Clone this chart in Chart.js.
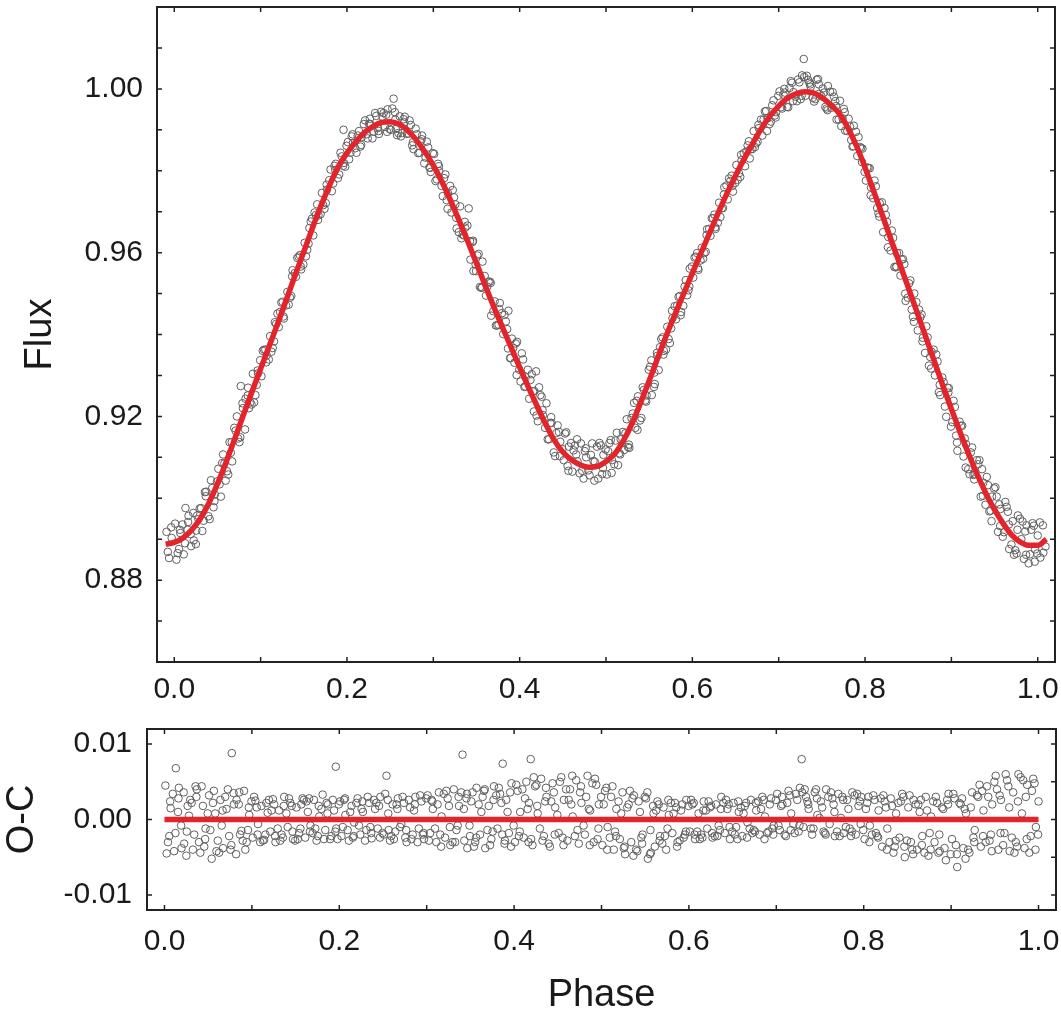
<!DOCTYPE html>
<html>
<head>
<meta charset="utf-8">
<title>Light curve and O-C residuals</title>
<script src="https://cdn.jsdelivr.net/npm/chart.js@4.4.1/dist/chart.umd.min.js"></script>
<style>
    html, body { margin: 0; padding: 0; background: #fff; }
    #wrap { position: relative; width: 1061px; height: 1017px; overflow: hidden; }
    canvas { position: absolute; left: 0; }
    #flux-chart { top: 0; }
    #oc-chart { top: 712px; }
</style>
</head>
<body>
<div id="wrap">
    <canvas id="flux-chart" width="1061" height="712" style="width:1061px;height:712px"></canvas>
    <canvas id="oc-chart" width="1061" height="305" style="width:1061px;height:305px"></canvas>
</div>
<script>
// Observed points (phase, normalised flux, O-C residual), three passes over the cycle
const phase = [
    -0.009, -0.006, -0.003, 0.001, 0.004, 0.007, 0.011, 0.013, 0.016, 0.019, 0.022, 0.025, 0.028, 0.031, 0.034, 0.037, 0.041, 0.044, 0.047,
    0.051, 0.054, 0.058, 0.061, 0.064, 0.067, 0.071, 0.074, 0.077, 0.079, 0.082, 0.085, 0.088, 0.091, 0.094, 0.097,
    0.101, 0.104, 0.107, 0.111, 0.114, 0.118, 0.121, 0.124, 0.127, 0.131, 0.134, 0.137, 0.141, 0.144, 0.147,
    0.151, 0.154, 0.158, 0.161, 0.164, 0.167, 0.171, 0.174, 0.177, 0.181, 0.184, 0.187, 0.191, 0.194, 0.196, 0.198,
    0.201, 0.204, 0.207, 0.211, 0.214, 0.217, 0.221, 0.224, 0.227, 0.231, 0.234, 0.237, 0.241, 0.244, 0.247,
    0.251, 0.254, 0.256, 0.258, 0.261, 0.264, 0.267, 0.271, 0.274, 0.277, 0.281, 0.284, 0.287, 0.291, 0.294, 0.297,
    0.301, 0.304, 0.307, 0.311, 0.314, 0.317, 0.321, 0.324, 0.327, 0.331, 0.334, 0.337, 0.341, 0.343, 0.346, 0.349,
    0.351, 0.354, 0.357, 0.361, 0.364, 0.367, 0.371, 0.374, 0.377, 0.381, 0.384, 0.387, 0.389, 0.391, 0.394, 0.397,
    0.401, 0.404, 0.407, 0.411, 0.414, 0.417, 0.419, 0.421, 0.424, 0.427, 0.431, 0.434, 0.437, 0.441, 0.444, 0.447,
    0.451, 0.454, 0.457, 0.461, 0.464, 0.467, 0.471, 0.474, 0.477, 0.481, 0.484, 0.487, 0.491, 0.494, 0.497,
    0.501, 0.504, 0.507, 0.511, 0.514, 0.517, 0.521, 0.524, 0.527, 0.531, 0.534, 0.537, 0.541, 0.544, 0.547,
    0.551, 0.553, 0.556, 0.559, 0.561, 0.564, 0.567, 0.571, 0.574, 0.577, 0.581, 0.584, 0.587, 0.591, 0.594, 0.597,
    0.601, 0.604, 0.607, 0.611, 0.614, 0.617, 0.621, 0.624, 0.627, 0.631, 0.634, 0.637, 0.641, 0.644, 0.647,
    0.651, 0.654, 0.657, 0.661, 0.664, 0.667, 0.671, 0.674, 0.677, 0.681, 0.684, 0.687, 0.691, 0.694, 0.697,
    0.701, 0.704, 0.707, 0.711, 0.714, 0.717, 0.721, 0.724, 0.727, 0.729, 0.731, 0.734, 0.737, 0.741, 0.744, 0.747,
    0.751, 0.754, 0.757, 0.761, 0.764, 0.767, 0.771, 0.774, 0.777, 0.781, 0.784, 0.787, 0.791, 0.794, 0.797,
    0.801, 0.804, 0.807, 0.811, 0.814, 0.817, 0.821, 0.824, 0.827, 0.831, 0.834, 0.837, 0.841, 0.844, 0.847,
    0.851, 0.854, 0.857, 0.861, 0.864, 0.867, 0.871, 0.874, 0.877, 0.881, 0.884, 0.887, 0.891, 0.894, 0.897,
    0.901, 0.904, 0.907, 0.911, 0.914, 0.917, 0.921, 0.924, 0.927, 0.931, 0.934, 0.937, 0.941, 0.944, 0.947,
    0.951, 0.954, 0.957, 0.961, 0.964, 0.967, 0.971, 0.974, 0.977, 0.981, 0.984, 0.987, 0.991, 0.994, 0.997, 1.000, 1.003, 1.006, 1.009,
    -0.0075, -0.0035, 0.0025, 0.0065, 0.0125, 0.0165, 0.0225, 0.0265, 0.0325, 0.0365, 0.0425, 0.0465, 0.0525, 0.0565, 0.0625, 0.0665, 0.0725, 0.0765, 0.0825, 0.0865, 0.0925, 0.0965,
    0.1025, 0.1065, 0.1125, 0.1165, 0.1225, 0.1265, 0.1325, 0.1365, 0.1425, 0.1465, 0.1525, 0.1565, 0.1625, 0.1665, 0.1725, 0.1765, 0.1825, 0.1865, 0.1925, 0.1965,
    0.2025, 0.2065, 0.2125, 0.2165, 0.2225, 0.2265, 0.2325, 0.2365, 0.2425, 0.2465, 0.2525, 0.2565, 0.2625, 0.2665, 0.2725, 0.2765, 0.2825, 0.2865, 0.2925, 0.2965,
    0.3025, 0.3065, 0.3125, 0.3165, 0.3225, 0.3265, 0.3325, 0.3365, 0.3425, 0.3465, 0.3525, 0.3565, 0.3625, 0.3665, 0.3725, 0.3765, 0.3825, 0.3865, 0.3925, 0.3965,
    0.4025, 0.4065, 0.4125, 0.4165, 0.4225, 0.4265, 0.4325, 0.4365, 0.4425, 0.4465, 0.4525, 0.4565, 0.4625, 0.4665, 0.4725, 0.4765, 0.4825, 0.4865, 0.4925, 0.4965,
    0.5025, 0.5065, 0.5125, 0.5165, 0.5225, 0.5265, 0.5325, 0.5365, 0.5425, 0.5465, 0.5525, 0.5565, 0.5625, 0.5665, 0.5725, 0.5765, 0.5825, 0.5865, 0.5925, 0.5965,
    0.6025, 0.6065, 0.6125, 0.6165, 0.6225, 0.6265, 0.6325, 0.6365, 0.6425, 0.6465, 0.6525, 0.6565, 0.6625, 0.6665, 0.6725, 0.6765, 0.6825, 0.6865, 0.6925, 0.6965,
    0.7025, 0.7065, 0.7125, 0.7165, 0.7225, 0.7265, 0.7325, 0.7365, 0.7425, 0.7465, 0.7525, 0.7565, 0.7625, 0.7665, 0.7725, 0.7765, 0.7825, 0.7865, 0.7925, 0.7965,
    0.8025, 0.8065, 0.8125, 0.8165, 0.8225, 0.8265, 0.8325, 0.8365, 0.8425, 0.8465, 0.8525, 0.8565, 0.8625, 0.8665, 0.8725, 0.8765, 0.8825, 0.8865, 0.8925, 0.8965,
    0.9025, 0.9065, 0.9125, 0.9165, 0.9225, 0.9265, 0.9325, 0.9365, 0.9425, 0.9465, 0.9525, 0.9565, 0.9625, 0.9665, 0.9725, 0.9765, 0.9825, 0.9865, 0.9925, 0.9965, 1.0025, 1.0065,
    0.0055, 0.0095, 0.0155, 0.0195, 0.0255, 0.0295, 0.0355, 0.0395, 0.0455, 0.0495, 0.0555, 0.0595, 0.0655, 0.0695, 0.0755, 0.0795, 0.0855, 0.0895, 0.0955, 0.0995,
    0.1055, 0.1095, 0.1155, 0.1195, 0.1255, 0.1295, 0.1355, 0.1395, 0.1455, 0.1495, 0.1555, 0.1595, 0.1655, 0.1695, 0.1755, 0.1795, 0.1855, 0.1895, 0.1955, 0.1995,
    0.2055, 0.2095, 0.2155, 0.2195, 0.2255, 0.2295, 0.2355, 0.2395, 0.2455, 0.2495, 0.2555, 0.2595, 0.2655, 0.2695, 0.2755, 0.2795, 0.2855, 0.2895, 0.2955, 0.2995,
    0.3055, 0.3095, 0.3155, 0.3195, 0.3255, 0.3295, 0.3355, 0.3395, 0.3455, 0.3495, 0.3555, 0.3595, 0.3655, 0.3695, 0.3755, 0.3795, 0.3855, 0.3895, 0.3955, 0.3995,
    0.4055, 0.4095, 0.4155, 0.4195, 0.4255, 0.4295, 0.4355, 0.4395, 0.4455, 0.4495, 0.4555, 0.4595, 0.4655, 0.4695, 0.4755, 0.4795, 0.4855, 0.4895, 0.4955, 0.4995,
    0.5055, 0.5095, 0.5155, 0.5195, 0.5255, 0.5295, 0.5355, 0.5395, 0.5455, 0.5495, 0.5555, 0.5595, 0.5655, 0.5695, 0.5755, 0.5795, 0.5855, 0.5895, 0.5955, 0.5995,
    0.6055, 0.6095, 0.6155, 0.6195, 0.6255, 0.6295, 0.6355, 0.6395, 0.6455, 0.6495, 0.6555, 0.6595, 0.6655, 0.6695, 0.6755, 0.6795, 0.6855, 0.6895, 0.6955, 0.6995,
    0.7055, 0.7095, 0.7155, 0.7195, 0.7255, 0.7295, 0.7355, 0.7395, 0.7455, 0.7495, 0.7555, 0.7595, 0.7655, 0.7695, 0.7755, 0.7795, 0.7855, 0.7895, 0.7955, 0.7995,
    0.8055, 0.8095, 0.8155, 0.8195, 0.8255, 0.8295, 0.8355, 0.8395, 0.8455, 0.8495, 0.8555, 0.8595, 0.8655, 0.8695, 0.8755, 0.8795, 0.8855, 0.8895, 0.8955, 0.8995,
    0.9055, 0.9095, 0.9155, 0.9195, 0.9255, 0.9295, 0.9355, 0.9395, 0.9455, 0.9495, 0.9555, 0.9595, 0.9655, 0.9695, 0.9755, 0.9795, 0.9855, 0.9895, 0.9955, 0.9995
];

const flux = [
    0.8918, 0.8854, 0.8903, 0.8938, 0.8866, 0.8915, 0.8863, 0.8976, 0.8942, 0.8912, 0.8964, 0.8888, 0.8949, 0.8976, 0.8945, 0.9016, 0.8949, 0.9025, 0.9009,
    0.9072, 0.9004, 0.9085, 0.9066, 0.9137, 0.9090, 0.9165, 0.9146, 0.9274, 0.9232, 0.9168, 0.9251, 0.9234, 0.9304, 0.9252, 0.9305,
    0.9298, 0.9363, 0.9349, 0.9396, 0.9367, 0.9426, 0.9418, 0.9478, 0.9439, 0.9504, 0.9490, 0.9557, 0.9541, 0.9590, 0.9559,
    0.9624, 0.9607, 0.9676, 0.9642, 0.9692, 0.9691, 0.9746, 0.9707, 0.9754, 0.9803, 0.9769, 0.9817, 0.9791, 0.9835, 0.9900, 0.9810,
    0.9870, 0.9844, 0.9868, 0.9844, 0.9897, 0.9882, 0.9923, 0.9879, 0.9914, 0.9895, 0.9934, 0.9890, 0.9932, 0.9907, 0.9950,
    0.9900, 0.9976, 0.9925, 0.9887, 0.9933, 0.9892, 0.9932, 0.9891, 0.9912, 0.9853, 0.9889, 0.9844, 0.9886, 0.9832, 0.9857, 0.9797,
    0.9841, 0.9779, 0.9799, 0.9738, 0.9791, 0.9745, 0.9698, 0.9735, 0.9659, 0.9713, 0.9644, 0.9661, 0.9708, 0.9583, 0.9629, 0.9571,
    0.9593, 0.9516, 0.9578, 0.9495, 0.9529, 0.9446, 0.9481, 0.9422, 0.9477, 0.9401, 0.9432, 0.9458, 0.9342, 0.9390, 0.9331, 0.9382,
    0.9285, 0.9339, 0.9296, 0.9243, 0.9303, 0.9262, 0.9310, 0.9188, 0.9252, 0.9203, 0.9232, 0.9144, 0.9184, 0.9103, 0.9178, 0.9138,
    0.9093, 0.9161, 0.9126, 0.9065, 0.9129, 0.9090, 0.9134, 0.9048, 0.9100, 0.9056, 0.9134, 0.9089, 0.9048, 0.9129, 0.9106,
    0.9058, 0.9135, 0.9093, 0.9141, 0.9081, 0.9144, 0.9118, 0.9193, 0.9123, 0.9207, 0.9172, 0.9249, 0.9196, 0.9265, 0.9251,
    0.9321, 0.9252, 0.9307, 0.9355, 0.9313, 0.9389, 0.9360, 0.9419, 0.9379, 0.9440, 0.9437, 0.9492, 0.9455, 0.9517, 0.9496, 0.9561,
    0.9539, 0.9590, 0.9558, 0.9612, 0.9599, 0.9657, 0.9641, 0.9684, 0.9658, 0.9722, 0.9708, 0.9760, 0.9730, 0.9775, 0.9749,
    0.9814, 0.9794, 0.9826, 0.9811, 0.9862, 0.9852, 0.9897, 0.9867, 0.9904, 0.9886, 0.9945, 0.9928, 0.9920, 0.9972, 0.9943,
    0.9994, 0.9952, 0.9991, 0.9955, 1.0019, 0.9992, 0.9970, 1.0016, 1.0033, 1.0073, 0.9983, 1.0022, 1.0005, 0.9969, 1.0022, 0.9988,
    1.0001, 0.9956, 1.0007, 0.9954, 0.9981, 0.9925, 0.9971, 0.9928, 0.9898, 0.9927, 0.9875, 0.9910, 0.9836, 0.9858, 0.9854,
    0.9776, 0.9807, 0.9759, 0.9776, 0.9709, 0.9721, 0.9650, 0.9692, 0.9638, 0.9654, 0.9565, 0.9599, 0.9544, 0.9584, 0.9482,
    0.9525, 0.9461, 0.9500, 0.9410, 0.9442, 0.9392, 0.9420, 0.9324, 0.9358, 0.9300, 0.9334, 0.9252, 0.9284, 0.9199, 0.9269,
    0.9186, 0.9223, 0.9116, 0.9177, 0.9102, 0.9132, 0.9059, 0.9124, 0.9059, 0.9083, 0.9004, 0.9038, 0.9052, 0.8968, 0.9004,
    0.9027, 0.8918, 0.8974, 0.8917, 0.8979, 0.8876, 0.8944, 0.8873, 0.8958, 0.8900, 0.8852, 0.8934, 0.8863, 0.8939, 0.8875, 0.8909, 0.8855, 0.8934, 0.8882,
    0.8869, 0.8929, 0.8850, 0.8923, 0.8890, 0.8957, 0.8897, 0.8958, 0.8920, 0.9005, 0.9044, 0.8993, 0.9034, 0.9107, 0.9058, 0.9137, 0.9200, 0.9149, 0.9243, 0.9220, 0.9234, 0.9312,
    0.9360, 0.9332, 0.9358, 0.9430, 0.9455, 0.9444, 0.9473, 0.9542, 0.9587, 0.9566, 0.9591, 0.9660, 0.9698, 0.9680, 0.9716, 0.9766, 0.9750, 0.9802, 0.9844, 0.9819,
    0.9828, 0.9889, 0.9886, 0.9863, 0.9889, 0.9927, 0.9941, 0.9897, 0.9941, 0.9895, 0.9952, 0.9902, 0.9884, 0.9918, 0.9923, 0.9870, 0.9843, 0.9877, 0.9871, 0.9807,
    0.9775, 0.9811, 0.9782, 0.9707, 0.9753, 0.9685, 0.9635, 0.9675, 0.9628, 0.9555, 0.9597, 0.9515, 0.9517, 0.9526, 0.9422, 0.9462, 0.9448, 0.9366, 0.9367, 0.9301,
    0.9354, 0.9273, 0.9289, 0.9212, 0.9271, 0.9215, 0.9144, 0.9198, 0.9159, 0.9103, 0.9158, 0.9067, 0.9117, 0.9144, 0.9067, 0.9122, 0.9106, 0.9043, 0.9135, 0.9074,
    0.9115, 0.9062, 0.9160, 0.9107, 0.9159, 0.9131, 0.9233, 0.9167, 0.9271, 0.9236, 0.9337, 0.9279, 0.9369, 0.9351, 0.9389, 0.9458, 0.9471, 0.9447, 0.9533, 0.9517,
    0.9588, 0.9562, 0.9585, 0.9643, 0.9684, 0.9662, 0.9687, 0.9742, 0.9781, 0.9763, 0.9778, 0.9839, 0.9847, 0.9830, 0.9858, 0.9912, 0.9925, 0.9897, 0.9960, 0.9930,
    0.9955, 1.0000, 1.0002, 0.9970, 1.0023, 0.9983, 1.0032, 1.0011, 0.9975, 1.0011, 0.9991, 0.9948, 0.9992, 0.9958, 0.9909, 0.9943, 0.9908, 0.9860, 0.9882, 0.9821,
    0.9808, 0.9740, 0.9762, 0.9688, 0.9709, 0.9613, 0.9636, 0.9566, 0.9583, 0.9500, 0.9532, 0.9431, 0.9461, 0.9383, 0.9393, 0.9317, 0.9351, 0.9277, 0.9224, 0.9258,
    0.9238, 0.9136, 0.9177, 0.9075, 0.9112, 0.9046, 0.9093, 0.9006, 0.9032, 0.8944, 0.9004, 0.8932, 0.8991, 0.8936, 0.8862, 0.8923, 0.8943, 0.8862, 0.8923, 0.8845, 0.8941, 0.8867,
    0.8876, 0.8936, 0.8923, 0.8883, 0.8921, 0.8975, 0.9015, 0.8956, 0.8978, 0.9041, 0.9086, 0.9043, 0.9111, 0.9172, 0.9137, 0.9220, 0.9270, 0.9229, 0.9277, 0.9337,
    0.9363, 0.9339, 0.9383, 0.9451, 0.9480, 0.9471, 0.9494, 0.9550, 0.9594, 0.9571, 0.9622, 0.9683, 0.9718, 0.9694, 0.9721, 0.9777, 0.9812, 0.9782, 0.9812, 0.9861,
    0.9884, 0.9855, 0.9859, 0.9914, 0.9915, 0.9879, 0.9904, 0.9944, 0.9937, 0.9902, 0.9943, 0.9892, 0.9926, 0.9890, 0.9862, 0.9903, 0.9872, 0.9818, 0.9808, 0.9843,
    0.9817, 0.9763, 0.9728, 0.9763, 0.9718, 0.9650, 0.9642, 0.9666, 0.9626, 0.9555, 0.9514, 0.9543, 0.9529, 0.9457, 0.9424, 0.9452, 0.9413, 0.9343, 0.9378, 0.9314,
    0.9272, 0.9314, 0.9261, 0.9202, 0.9248, 0.9172, 0.9184, 0.9112, 0.9162, 0.9120, 0.9079, 0.9135, 0.9107, 0.9061, 0.9115, 0.9068, 0.9091, 0.9126, 0.9059, 0.9119,
    0.9142, 0.9083, 0.9110, 0.9162, 0.9125, 0.9196, 0.9238, 0.9190, 0.9239, 0.9314, 0.9272, 0.9348, 0.9393, 0.9363, 0.9415, 0.9469, 0.9494, 0.9470, 0.9508, 0.9566,
    0.9599, 0.9581, 0.9602, 0.9658, 0.9693, 0.9673, 0.9709, 0.9764, 0.9788, 0.9770, 0.9785, 0.9843, 0.9872, 0.9853, 0.9871, 0.9925, 0.9946, 0.9914, 0.9935, 0.9983,
    0.9986, 0.9956, 1.0015, 0.9981, 0.9975, 1.0029, 1.0015, 0.9978, 1.0024, 0.9982, 0.9952, 0.9993, 0.9970, 0.9925, 0.9951, 0.9897, 0.9859, 0.9895, 0.9856, 0.9797,
    0.9806, 0.9733, 0.9696, 0.9723, 0.9675, 0.9605, 0.9564, 0.9599, 0.9572, 0.9490, 0.9443, 0.9479, 0.9449, 0.9355, 0.9345, 0.9363, 0.9259, 0.9295, 0.9270, 0.9175,
    0.9153, 0.9187, 0.9146, 0.9071, 0.9057, 0.9093, 0.9071, 0.8984, 0.8970, 0.9024, 0.8985, 0.8906, 0.8967, 0.8887, 0.8865, 0.8950, 0.8919, 0.8841, 0.8933, 0.8865
];

const oc = [
    0.0030, -0.0035, 0.0012, 0.0045, -0.0030, 0.0015, -0.0042, 0.0068, 0.0028, -0.0008, 0.0036, -0.0048, 0.0005, 0.0022, -0.0020, 0.0040, -0.0044, 0.0018, -0.0012,
    0.0032, -0.0052, 0.0008, -0.0028, 0.0026, -0.0038, 0.0014, -0.0022, 0.0088, 0.0035, -0.0046, 0.0020, -0.0015, 0.0038, -0.0030, 0.0006,
    -0.0024, 0.0025, -0.0006, 0.0018, -0.0027, 0.0009, -0.0016, 0.0027, -0.0030, 0.0012, -0.0020, 0.0030, -0.0010, 0.0022, -0.0026,
    0.0016, -0.0018, 0.0028, -0.0024, 0.0010, -0.0008, 0.0026, -0.0028, 0.0004, 0.0033, -0.0014, 0.0020, -0.0022, 0.0012, 0.0070, -0.0026,
    0.0024, -0.0010, 0.0006, -0.0028, 0.0018, -0.0004, 0.0028, -0.0020, 0.0010, -0.0014, 0.0022, -0.0025, 0.0014, -0.0012, 0.0030,
    -0.0020, 0.0058, 0.0008, -0.0028, 0.0020, -0.0016, 0.0028, -0.0006, 0.0022, -0.0030, 0.0016, -0.0020, 0.0030, -0.0012, 0.0024, -0.0026,
    0.0032, -0.0018, 0.0014, -0.0030, 0.0036, 0.0004, -0.0024, 0.0028, -0.0034, 0.0040, -0.0014, 0.0018, 0.0086, -0.0028, 0.0034, -0.0008,
    0.0024, -0.0036, 0.0042, -0.0020, 0.0030, -0.0038, 0.0018, -0.0026, 0.0044, -0.0012, 0.0034, 0.0074, -0.0032, 0.0026, -0.0018, 0.0048,
    -0.0030, 0.0038, 0.0010, -0.0024, 0.0050, 0.0022, 0.0080, -0.0034, 0.0044, 0.0008, 0.0054, -0.0022, 0.0030, -0.0036, 0.0048, 0.0016,
    -0.0018, 0.0056, 0.0026, -0.0028, 0.0040, 0.0004, 0.0052, -0.0032, 0.0022, -0.0020, 0.0058, 0.0012, -0.0030, 0.0046, 0.0020,
    -0.0034, 0.0038, -0.0010, 0.0030, -0.0040, 0.0014, -0.0026, 0.0036, -0.0046, 0.0020, -0.0030, 0.0032, -0.0042, 0.0010, -0.0020,
    0.0028, -0.0052, -0.0014, 0.0018, -0.0036, 0.0024, -0.0022, 0.0016, -0.0040, 0.0006, -0.0018, 0.0022, -0.0030, 0.0012, -0.0024, 0.0026,
    -0.0016, 0.0020, -0.0026, 0.0008, -0.0020, 0.0024, -0.0012, 0.0016, -0.0024, 0.0020, -0.0008, 0.0030, -0.0018, 0.0014, -0.0026,
    0.0022, -0.0010, 0.0010, -0.0022, 0.0018, -0.0004, 0.0026, -0.0014, 0.0012, -0.0020, 0.0030, 0.0004, -0.0016, 0.0028, -0.0008,
    0.0034, -0.0014, 0.0020, -0.0022, 0.0038, 0.0008, -0.0018, 0.0026, 0.0042, 0.0080, -0.0010, 0.0030, 0.0014, -0.0020, 0.0036, 0.0006,
    0.0024, -0.0016, 0.0040, -0.0006, 0.0028, -0.0022, 0.0034, 0.0002, -0.0018, 0.0026, -0.0012, 0.0036, -0.0020, 0.0018, 0.0030,
    -0.0026, 0.0022, -0.0008, 0.0032, -0.0018, 0.0012, -0.0036, 0.0024, -0.0012, 0.0028, -0.0044, 0.0008, -0.0024, 0.0034, -0.0050,
    0.0016, -0.0030, 0.0026, -0.0040, 0.0010, -0.0022, 0.0030, -0.0048, 0.0004, -0.0030, 0.0022, -0.0042, 0.0014, -0.0054, 0.0034,
    -0.0026, 0.0028, -0.0063, 0.0020, -0.0038, 0.0008, -0.0044, 0.0036, -0.0014, 0.0030, -0.0036, 0.0012, 0.0044, -0.0028, 0.0020,
    0.0058, -0.0040, 0.0026, -0.0018, 0.0052, -0.0042, 0.0036, -0.0030, 0.0060, 0.0008, -0.0038, 0.0046, -0.0022, 0.0054, -0.0010, 0.0024, -0.0034, 0.0040, -0.0016,
    -0.0020, 0.0038, -0.0045, 0.0024, -0.0018, 0.0042, -0.0032, 0.0018, -0.0040, 0.0030, 0.0044, -0.0026, -0.0014, 0.0038, -0.0044, 0.0012, 0.0040, -0.0034, 0.0026, -0.0020, -0.0040, 0.0016,
    0.0030, -0.0020, -0.0028, 0.0022, 0.0012, -0.0022, -0.0028, 0.0018, 0.0028, -0.0016, -0.0026, 0.0020, 0.0024, -0.0016, -0.0012, 0.0018, -0.0026, 0.0008, 0.0026, -0.0012,
    -0.0022, 0.0028, 0.0010, -0.0022, -0.0008, 0.0024, 0.0030, -0.0018, 0.0022, -0.0024, 0.0034, -0.0014, -0.0026, 0.0014, 0.0030, -0.0014, -0.0026, 0.0020, 0.0032, -0.0018,
    -0.0028, 0.0024, 0.0020, -0.0036, 0.0038, -0.0010, -0.0030, 0.0030, 0.0014, -0.0038, 0.0036, -0.0024, 0.0010, 0.0040, -0.0034, 0.0026, 0.0042, -0.0020, 0.0010, -0.0036,
    0.0046, -0.0016, 0.0028, -0.0030, 0.0056, 0.0018, -0.0028, 0.0042, 0.0024, -0.0020, 0.0050, -0.0034, 0.0026, 0.0058, -0.0014, 0.0044, 0.0030, -0.0034, 0.0054, -0.0012,
    0.0020, -0.0040, 0.0044, -0.0022, 0.0008, -0.0036, 0.0038, -0.0048, 0.0024, -0.0032, 0.0036, -0.0044, 0.0012, -0.0028, -0.0022, 0.0026, 0.0008, -0.0036, 0.0020, -0.0016,
    0.0026, -0.0020, -0.0026, 0.0012, 0.0024, -0.0018, -0.0022, 0.0014, 0.0026, -0.0010, -0.0020, 0.0024, 0.0008, -0.0024, -0.0018, 0.0022, 0.0014, -0.0026, 0.0020, -0.0020,
    -0.0008, 0.0030, 0.0022, -0.0014, 0.0034, -0.0008, 0.0040, 0.0020, -0.0012, 0.0028, 0.0016, -0.0020, 0.0036, 0.0010, -0.0022, 0.0026, 0.0014, -0.0016, 0.0034, -0.0006,
    0.0014, -0.0030, 0.0026, -0.0024, 0.0032, -0.0040, 0.0018, -0.0028, 0.0024, -0.0036, 0.0032, -0.0046, 0.0020, -0.0034, 0.0012, -0.0040, 0.0030, -0.0020, -0.0038, 0.0020,
    0.0034, -0.0046, 0.0028, -0.0052, 0.0016, -0.0030, 0.0046, -0.0022, 0.0030, -0.0042, 0.0040, -0.0018, 0.0060, 0.0016, -0.0044, 0.0024, 0.0052, -0.0026, 0.0038, -0.0040, 0.0052, -0.0028,
    -0.0022, 0.0034, 0.0010, -0.0038, -0.0016, 0.0026, 0.0044, -0.0030, -0.0036, 0.0008, 0.0022, -0.0042, -0.0008, 0.0030, -0.0040, 0.0020, 0.0036, -0.0028, -0.0014, 0.0024,
    0.0016, -0.0030, -0.0020, 0.0026, 0.0020, -0.0012, -0.0024, 0.0008, 0.0018, -0.0028, -0.0012, 0.0026, 0.0028, -0.0018, -0.0022, 0.0014, 0.0022, -0.0026, -0.0016, 0.0020,
    0.0026, -0.0014, -0.0024, 0.0022, 0.0014, -0.0028, -0.0010, 0.0026, 0.0018, -0.0018, 0.0026, -0.0022, 0.0020, -0.0010, -0.0024, 0.0026, 0.0012, -0.0030, -0.0020, 0.0028,
    0.0026, -0.0012, -0.0020, 0.0034, 0.0018, -0.0030, -0.0008, 0.0036, 0.0028, -0.0022, -0.0030, 0.0020, 0.0038, -0.0014, -0.0016, 0.0032, 0.0022, -0.0028, 0.0036, -0.0008,
    -0.0022, 0.0040, 0.0014, -0.0026, 0.0046, -0.0012, 0.0024, -0.0032, 0.0036, 0.0006, -0.0024, 0.0040, 0.0020, -0.0022, 0.0036, -0.0008, 0.0014, 0.0048, -0.0026, 0.0030,
    0.0042, -0.0024, -0.0016, 0.0024, -0.0038, 0.0016, 0.0028, -0.0040, -0.0024, 0.0030, -0.0046, 0.0008, 0.0020, -0.0032, -0.0012, 0.0022, 0.0016, -0.0028, -0.0020, 0.0018,
    0.0022, -0.0016, -0.0024, 0.0012, 0.0018, -0.0022, -0.0014, 0.0022, 0.0020, -0.0016, -0.0026, 0.0016, 0.0022, -0.0012, -0.0016, 0.0024, 0.0026, -0.0018, -0.0012, 0.0026,
    0.0018, -0.0020, 0.0032, -0.0006, -0.0016, 0.0036, 0.0024, -0.0012, 0.0040, 0.0002, -0.0018, 0.0030, 0.0020, -0.0016, 0.0030, -0.0010, -0.0022, 0.0032, 0.0024, -0.0014,
    0.0030, -0.0020, -0.0022, 0.0028, 0.0016, -0.0030, -0.0036, 0.0022, 0.0030, -0.0028, -0.0040, 0.0020, 0.0026, -0.0044, -0.0018, 0.0024, -0.0044, 0.0016, 0.0026, -0.0046,
    -0.0034, 0.0022, 0.0014, -0.0040, -0.0024, 0.0032, 0.0038, -0.0030, -0.0020, 0.0050, 0.0032, -0.0034, 0.0044, -0.0024, -0.0036, 0.0056, 0.0030, -0.0044, 0.0048, -0.0020
];

// Model light curve (red line)
const fitPhase = [
    -0.01, 0.00, 0.01, 0.02, 0.03, 0.04, 0.05, 0.06, 0.07, 0.08,
    0.09, 0.10, 0.11, 0.12, 0.13, 0.14, 0.15, 0.16, 0.17, 0.18,
    0.19, 0.20, 0.21, 0.22, 0.23, 0.24, 0.25, 0.26, 0.27, 0.28,
    0.29, 0.30, 0.31, 0.32, 0.33, 0.34, 0.35, 0.36, 0.37, 0.38,
    0.39, 0.40, 0.41, 0.42, 0.43, 0.44, 0.45, 0.46, 0.47, 0.48,
    0.49, 0.50, 0.51, 0.52, 0.53, 0.54, 0.55, 0.56, 0.57, 0.58,
    0.59, 0.60, 0.61, 0.62, 0.63, 0.64, 0.65, 0.66, 0.67, 0.68,
    0.69, 0.70, 0.71, 0.72, 0.73, 0.74, 0.75, 0.76, 0.77, 0.78,
    0.79, 0.80, 0.81, 0.82, 0.83, 0.84, 0.85, 0.86, 0.87, 0.88,
    0.89, 0.90, 0.91, 0.92, 0.93, 0.94, 0.95, 0.96, 0.97, 0.98,
    0.99, 1.00, 1.01
];
const fitFlux = [
    0.8888, 0.8892, 0.8903, 0.8922, 0.8950, 0.8988, 0.9035, 0.9088, 0.9145, 0.9203,
    0.9260, 0.9316, 0.9372, 0.9428, 0.9486, 0.9545, 0.9602, 0.9660, 0.9715, 0.9765,
    0.9810, 0.9843, 0.9870, 0.9893, 0.9908, 0.9918, 0.9920, 0.9914, 0.9899, 0.9876,
    0.9847, 0.9813, 0.9773, 0.9727, 0.9678, 0.9627, 0.9574, 0.9520, 0.9468, 0.9418,
    0.9369, 0.9320, 0.9272, 0.9226, 0.9182, 0.9142, 0.9113, 0.9094, 0.9082, 0.9076,
    0.9078, 0.9090, 0.9108, 0.9140, 0.9182, 0.9233, 0.9287, 0.9343, 0.9398, 0.9450,
    0.9500, 0.9550, 0.9599, 0.9648, 0.9697, 0.9744, 0.9788, 0.9829, 0.9867, 0.9903,
    0.9934, 0.9958, 0.9977, 0.9988, 0.9993, 0.9990, 0.9979, 0.9962, 0.9940, 0.9905,
    0.9861, 0.9808, 0.9750, 0.9692, 0.9632, 0.9574, 0.9515, 0.9456, 0.9396, 0.9336,
    0.9276, 0.9218, 0.9162, 0.9108, 0.9058, 0.9012, 0.8972, 0.8938, 0.8910, 0.8893,
    0.8885, 0.8885, 0.8900
];

// Residual zero line
const ocLinePhase = [0.0, 1.0];
const ocLineValue = [0.0, 0.0];

// Tick values
const phaseLabels = [0.0, 0.2, 0.4, 0.6, 0.8, 1.0];
const phaseMinor = [0.0, 0.1, 0.2, 0.3, 0.4, 0.5, 0.6, 0.7, 0.8, 0.9, 1.0];
const fluxLabels = [0.88, 0.92, 0.96, 1.00];
const fluxMinor = [0.87, 0.88, 0.89, 0.90, 0.91, 0.92, 0.93, 0.94, 0.95, 0.96, 0.97, 0.98, 0.99, 1.00, 1.01];
const ocLabels = [-0.01, 0.00, 0.01];
const ocMinor = [-0.01, -0.005, 0.00, 0.005, 0.01];

const FONT = "'Liberation Sans', Arial, sans-serif";
const TEXT = '#1a1a1a';
const RED = '#e3242b';
const GREY = '#606060';

// Box around the plot area with inward tick marks on all four sides
const framePlugin = {
    id: 'frame',
    afterDatasetsDraw(chart, args, opts) {
        const { ctx, chartArea: a } = chart;
        const x = chart.scales.x;
        const y = chart.scales.y;
        const len = 5;
        ctx.save();
        ctx.strokeStyle = '#222';
        ctx.lineWidth = 1.5;
        ctx.beginPath();
        opts.xTicks.forEach(v => {
            const px = x.getPixelForValue(v);
            ctx.moveTo(px, a.bottom);
            ctx.lineTo(px, a.bottom - len);
            ctx.moveTo(px, a.top);
            ctx.lineTo(px, a.top + len);
        });
        opts.yLeft.forEach(v => {
            const py = y.getPixelForValue(v);
            ctx.moveTo(a.left, py);
            ctx.lineTo(a.left + len, py);
        });
        opts.yRight.forEach(v => {
            const py = y.getPixelForValue(v);
            ctx.moveTo(a.right, py);
            ctx.lineTo(a.right - len, py);
        });
        ctx.stroke();
        ctx.lineWidth = 2;
        ctx.strokeRect(a.left, a.top, a.right - a.left, a.bottom - a.top);
        ctx.restore();
    }
};

function pointsOf(xs, ys) {
    return xs.map((v, i) => ({ x: v, y: ys[i] }));
}

// Fix the axis box size and drop the label overhang padding
function fixSize(prop, size) {
    return s => {
        s[prop] = size;
        s.paddingTop = 0;
        s.paddingBottom = 0;
        s.paddingLeft = 0;
        s.paddingRight = 0;
    };
}

function tickFont() {
    return { family: FONT, size: 30 };
}

function titleFont() {
    return { family: FONT, size: 38, lineHeight: 1 };
}

function scatterSet(data) {
    return {
        label: 'Observed',
        data: data,
        showLine: false,
        pointRadius: 3.8,
        pointBorderWidth: 1,
        pointBorderColor: GREY,
        pointBackgroundColor: 'rgba(255,255,255,0)',
        order: 1
    };
}

function lineSet(data) {
    return {
        label: 'Model',
        data: data,
        showLine: true,
        borderColor: RED,
        borderWidth: 5.5,
        pointRadius: 0,
        cubicInterpolationMode: 'monotone',
        order: 0
    };
}

// Top panel: flux vs phase
new Chart(document.getElementById('flux-chart'), {
    type: 'scatter',
    data: {
        datasets: [
            lineSet(pointsOf(fitPhase, fitFlux)),
            scatterSet(pointsOf(phase, flux))
        ]
    },
    options: {
        responsive: false,
        animation: false,
        layout: { padding: { left: 0, top: 7, right: 6, bottom: 0 } },
        plugins: {
            legend: { display: false },
            tooltip: { enabled: false },
            frame: { xTicks: phaseMinor, yLeft: fluxMinor, yRight: fluxMinor }
        },
        scales: {
            x: {
                type: 'linear',
                min: -0.02,
                max: 1.02,
                afterBuildTicks: s => { s.ticks = phaseLabels.map(v => ({ value: v })); },
                afterFit: fixSize('height', 50),
                grid: { display: false, drawTicks: false },
                border: { display: false },
                ticks: {
                    padding: 10,
                    color: TEXT,
                    font: tickFont(),
                    maxRotation: 0,
                    autoSkip: false,
                    callback: v => v.toFixed(1)
                }
            },
            y: {
                type: 'linear',
                min: 0.86,
                max: 1.02,
                afterBuildTicks: s => { s.ticks = fluxLabels.map(v => ({ value: v })); },
                afterFit: fixSize('width', 157),
                grid: { display: false, drawTicks: false },
                border: { display: false },
                ticks: {
                    padding: 14,
                    color: TEXT,
                    font: tickFont(),
                    autoSkip: false,
                    callback: v => v.toFixed(2)
                },
                title: {
                    display: true,
                    text: 'Flux',
                    color: TEXT,
                    font: titleFont(),
                    padding: { top: 22, bottom: 0 }
                }
            }
        }
    },
    plugins: [framePlugin]
});

// Bottom panel: O-C residuals vs phase
const ocPoints = pointsOf(phase, oc).filter(p => p.x >= 0 && p.x <= 1);

new Chart(document.getElementById('oc-chart'), {
    type: 'scatter',
    data: {
        datasets: [
            lineSet(pointsOf(ocLinePhase, ocLineValue)),
            scatterSet(ocPoints)
        ]
    },
    options: {
        responsive: false,
        animation: false,
        layout: { padding: { left: 0, top: 17, right: 5, bottom: 0 } },
        plugins: {
            legend: { display: false },
            tooltip: { enabled: false },
            frame: { xTicks: phaseMinor, yLeft: ocLabels, yRight: ocMinor }
        },
        scales: {
            x: {
                type: 'linear',
                min: -0.02,
                max: 1.02,
                afterBuildTicks: s => { s.ticks = phaseLabels.map(v => ({ value: v })); },
                afterFit: fixSize('height', 107),
                grid: { display: false, drawTicks: false },
                border: { display: false },
                ticks: {
                    padding: 14,
                    color: TEXT,
                    font: tickFont(),
                    maxRotation: 0,
                    autoSkip: false,
                    callback: v => v.toFixed(1)
                },
                title: {
                    display: true,
                    text: 'Phase',
                    color: TEXT,
                    font: titleFont(),
                    padding: { top: 0, bottom: 2 }
                }
            },
            y: {
                type: 'linear',
                min: -0.012,
                max: 0.012,
                afterBuildTicks: s => { s.ticks = ocLabels.map(v => ({ value: v })); },
                afterFit: fixSize('width', 147),
                grid: { display: false, drawTicks: false },
                border: { display: false },
                ticks: {
                    padding: 15,
                    color: TEXT,
                    font: tickFont(),
                    autoSkip: false,
                    callback: v => v.toFixed(2)
                },
                title: {
                    display: true,
                    text: 'O-C',
                    color: TEXT,
                    font: titleFont(),
                    padding: { top: 4, bottom: 0 }
                }
            }
        }
    },
    plugins: [framePlugin]
});
</script>
</body>
</html>
